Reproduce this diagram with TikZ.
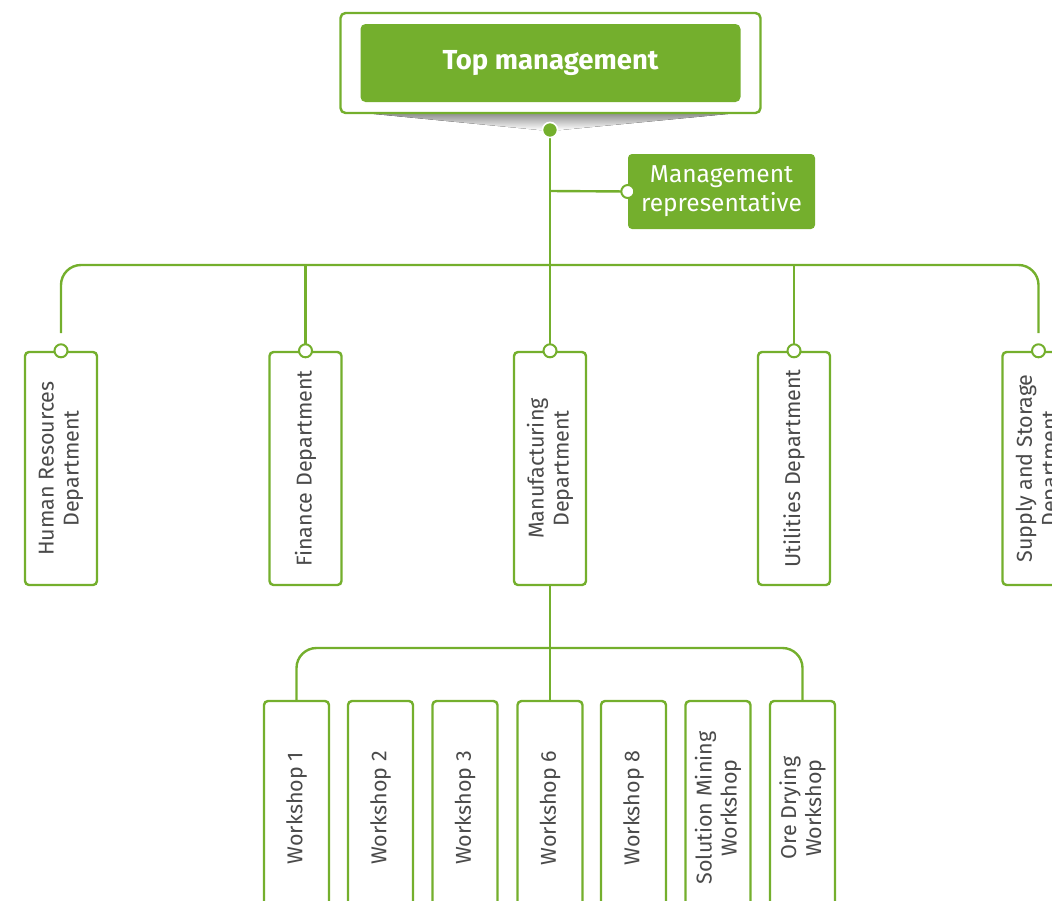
\documentclass[tikz,border=0pt]{standalone}
\usepackage{fontspec}
\setmainfont{Fira Sans}
\definecolor{grn}{HTML}{74AF2D}
\definecolor{txt}{HTML}{4A4A4A}
\definecolor{shade}{HTML}{A0A0A0}
\begin{document}
\begin{tikzpicture}[x=1pt,y=-1pt,
  line/.style={draw=grn, line width=2.4pt},
  dept/.style={draw=grn, line width=2.4pt, fill=white, rounded corners=4pt,
    minimum width=72pt, minimum height=233pt, inner sep=0pt},
  shop/.style={draw=grn, line width=2.4pt, fill=white, rounded corners=4pt,
    minimum width=65pt, minimum height=214pt, inner sep=0pt},
  vlabel/.style={rotate=90, text=txt, align=center, inner sep=0pt,
    font=\fontsize{21.5}{25}\selectfont},
  port/.style={circle, draw=grn, line width=2pt, fill=white,
    minimum size=13pt, inner sep=0pt},
  hubdot/.style={circle, draw=white, line width=1.5pt, fill=grn,
    minimum size=15pt, inner sep=0pt}]
\useasboundingbox (0,0) rectangle (1052,900);
\clip (0,0) rectangle (1052,900);

% top management block with its grey shadow wedge
\fill[shade] (343,111) -- (759,111) -- (561,130) -- (539,130) -- cycle;
\node[draw=grn, line width=2.4pt, fill=white, rounded corners=5pt,
  minimum width=420pt, minimum height=100pt, inner sep=0pt] (frame) at (550.5,63) {};
\node[fill=grn, rounded corners=5pt, minimum width=380pt, minimum height=78pt,
  inner sep=0pt, text=white, font=\fontsize{27.5}{30}\selectfont\bfseries] (top) at (550.5,63) {Top management};

% management representative
\node[fill=grn, rounded corners=4pt, minimum width=187pt, minimum height=75pt,
  inner sep=0pt, text=white, align=center, font=\fontsize{24.5}{29}\selectfont] (rep) at (721.5,191.5) {Management\\representative};

% departments
\node[dept] (hr)  at (61,468.5)  {};
\node[dept] (fin) at (305.5,468.5) {};
\node[dept] (mfg) at (550,468.5) {};
\node[dept] (utl) at (794,468.5) {};
\node[dept] (sup) at (1038.5,468.5) {};
\node[vlabel] at (hr)  {Human Resources\\Department};
\node[vlabel] at (fin) {Finance Department};
\node[vlabel] at (mfg) {Manufacturing\\Department};
\node[vlabel] at (utl) {Utilities Department};
\node[vlabel] at (sup) {Supply and Storage\\Department};

% workshops
\node[shop] (w1) at (296.5,808) {};
\node[shop] (w2) at (380.5,808) {};
\node[shop] (w3) at (465,808) {};
\node[shop] (w6) at (550,808) {};
\node[shop] (w8) at (633.5,808) {};
\node[shop] (wsm) at (718,808) {};
\node[shop] (wod) at (802.5,808) {};
\node[vlabel] at (w1) {Workshop 1};
\node[vlabel] at (w2) {Workshop 2};
\node[vlabel] at (w3) {Workshop 3};
\node[vlabel] at (w6) {Workshop 6};
\node[vlabel] at (w8) {Workshop 8};
\node[vlabel] at (wsm) {Solution Mining\\Workshop};
\node[vlabel] at (wod) {Ore Drying\\Workshop};

% connectors
\node[hubdot] (hub) at (550,130) {};
\coordinate (bus) at (550,265);
\coordinate (mj) at (550,191);
\coordinate (hrend) at (61,333);
\coordinate (supend) at (1038.5,333);
\coordinate (wbus) at (550,648);

\draw[line] (hub) -- (mfg.north);
\draw[line] (mj) -- (rep.west);
\draw[line, rounded corners=20pt] (hrend) |- (bus) -| (supend);
\draw[line] (bus -| fin.north) -- (fin.north);
\draw[line] (bus -| utl.north) -- (utl.north);
\node[hubdot] at (hub) {};

\draw[line] (mfg.south) -- (w6.north);
\draw[line, rounded corners=20pt] (w1.north) |- (wbus) -| (wod.north);

% connection ports
\node[port] at (rep.west) {};
\node[port] at (hr.north) {};
\node[port] at (fin.north) {};
\node[port] at (mfg.north) {};
\node[port] at (utl.north) {};
\node[port] at (sup.north) {};
\end{tikzpicture}
\end{document}
